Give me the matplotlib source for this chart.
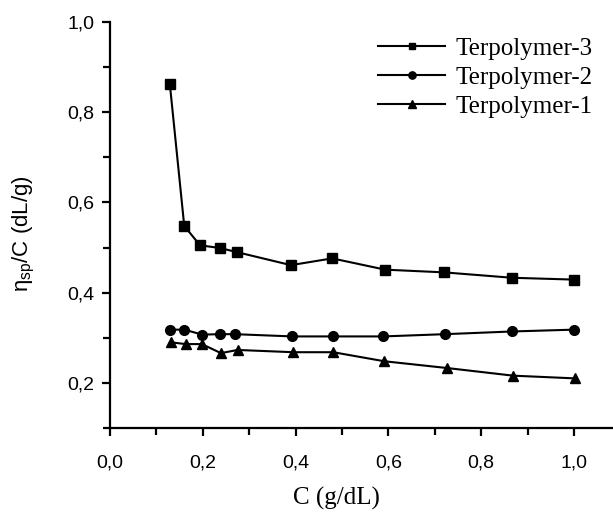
import matplotlib
matplotlib.use("Agg")
import matplotlib.pyplot as plt
from matplotlib.ticker import MultipleLocator, FuncFormatter

# Data
x3 = [0.129, 0.160, 0.194, 0.237, 0.273, 0.390, 0.479, 0.593, 0.720, 0.867, 0.999]
y3 = [0.862, 0.548, 0.505, 0.499, 0.490, 0.461, 0.476, 0.451, 0.445, 0.433, 0.429]

x2 = [0.129, 0.160, 0.199, 0.237, 0.269, 0.393, 0.481, 0.589, 0.722, 0.867, 0.999]
y2 = [0.318, 0.318, 0.307, 0.308, 0.308, 0.303, 0.303, 0.303, 0.308, 0.314, 0.318]

x1 = [0.131, 0.163, 0.198, 0.239, 0.275, 0.395, 0.481, 0.591, 0.726, 0.869, 1.002]
y1 = [0.290, 0.286, 0.286, 0.266, 0.273, 0.268, 0.268, 0.248, 0.233, 0.216, 0.210]

labels = ["Terpolymer-3", "Terpolymer-2", "Terpolymer-1"]

W, H = 613, 515
fig = plt.figure(figsize=(W / 100, H / 100), dpi=100)
ax = fig.add_axes([110 / W, 1 - 428 / H, 1 - 110 / W, (428 - 22) / H])

lw = 1.5
ax.plot(x3, y3, '-', color='black', lw=lw, marker='s', ms=6.5, label=labels[0])
ax.plot(x2, y2, '-', color='black', lw=lw, marker='o', ms=7, label=labels[1])
ax.plot(x1, y1, '-', color='black', lw=lw, marker='^', ms=7.5, label=labels[2])

ax.set_xlim(0, (W - 110) / 464)
ax.set_ylim(0.1, 1.0)
ax.xaxis.set_major_locator(MultipleLocator(0.2))
ax.xaxis.set_minor_locator(MultipleLocator(0.1))
ax.yaxis.set_major_locator(MultipleLocator(0.2))
ax.yaxis.set_minor_locator(MultipleLocator(0.1))
fmt = FuncFormatter(lambda v, p: f"{v:.1f}".replace('.', ','))
ax.xaxis.set_major_formatter(fmt)
ax.yaxis.set_major_formatter(fmt)

for s in ['top', 'right']:
    ax.spines[s].set_visible(False)
for s in ['left', 'bottom']:
    ax.spines[s].set_linewidth(1.6)

ax.tick_params(which='major', direction='out', length=6, width=1.6, labelsize=14)
ax.tick_params(which='minor', direction='out', length=5, width=1.6)
ax.tick_params(axis='x', which='major', pad=13)
ax.tick_params(axis='y', which='major', pad=5)
for t in ax.get_xticklabels() + ax.get_yticklabels():
    t.set_family('Liberation Sans')

ax.set_xlabel("C (g/dL)", family='Liberation Serif', fontsize=18)
ax.xaxis.set_label_coords(0.45, -0.145)
ax.set_ylabel(r"$\mathregular{\eta_{sp}}$/C (dL/g)", family='Liberation Sans',
              fontsize=16)
ax.yaxis.set_label_coords(-0.145, 0.48)

leg = ax.legend(loc='upper left', bbox_to_anchor=(378 / W, 1 - 37 / H),
                bbox_transform=fig.transFigure, frameon=False,
                prop={'family': 'Liberation Serif', 'size': 18},
                handlelength=2.7, handletextpad=0.4, labelspacing=0.27,
                markerscale=0.75, borderpad=0, borderaxespad=0)

fig.savefig("out.png", dpi=100)
